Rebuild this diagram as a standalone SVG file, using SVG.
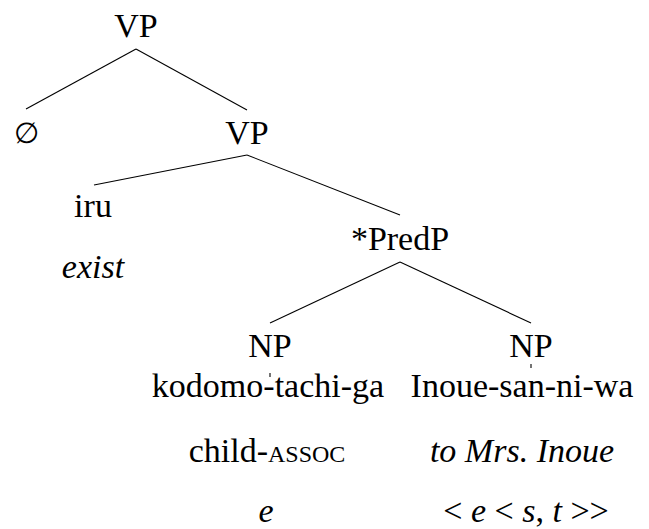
<svg xmlns="http://www.w3.org/2000/svg" width="649" height="529" viewBox="0 0 649 529">
  <style>
    .lbl { font-family: "Liberation Serif", "Times New Roman", serif; font-size: 34px; fill: #000; text-anchor: middle; }
    .it { font-style: italic; }
    .sc { font-size: 24px; }
    .sym { font-family: "DejaVu Serif", "Liberation Serif", serif; font-size: 29px; }
    .edge { stroke: #000; stroke-width: 1.1; fill: none; }
  </style>
  <rect width="649" height="529" fill="#fff"/>

  <!-- tree branches -->
  <g id="connectors">
    <line class="edge" x1="136" y1="49" x2="26" y2="109"/>
    <line class="edge" x1="136" y1="49" x2="247" y2="110"/>
    <line class="edge" x1="247" y1="155" x2="94" y2="185"/>
    <line class="edge" x1="247" y1="155" x2="400" y2="215"/>
    <line class="edge" x1="400" y1="262" x2="270" y2="323"/>
    <line class="edge" x1="400" y1="262" x2="531" y2="323"/>
    <line class="edge" x1="270" y1="373" x2="270" y2="377"/>
    <line class="edge" x1="531" y1="364" x2="531" y2="368"/>
  </g>

  <g id="vp-root"><text class="lbl" x="136" y="37">VP</text></g>
  <g id="null"><text class="lbl sym" x="26" y="143">∅</text></g>
  <g id="vp"><text class="lbl" x="247" y="144">VP</text></g>
  <g id="iru">
    <text class="lbl" x="93" y="217">iru</text>
    <text class="lbl it" x="93" y="278">exist</text>
  </g>
  <g id="predp"><text class="lbl" x="400" y="250">*PredP</text></g>
  <g id="np-left">
    <text class="lbl" x="270" y="357">NP</text>
    <text class="lbl" x="268" y="397">kodomo-tachi-ga</text>
    <text class="lbl" x="267" y="462">child-<tspan class="sc">ASSOC</tspan></text>
    <text class="lbl it" x="266" y="522">e</text>
  </g>
  <g id="np-right">
    <text class="lbl" x="531" y="357">NP</text>
    <text class="lbl" x="522" y="397">Inoue-san-ni-wa</text>
    <text class="lbl it" x="522" y="462">to Mrs. Inoue</text>
    <text class="lbl" x="526" y="522">&lt; <tspan class="it">e</tspan> &lt; <tspan class="it">s</tspan>, <tspan class="it">t</tspan> &gt;&gt;</text>
  </g>
</svg>
